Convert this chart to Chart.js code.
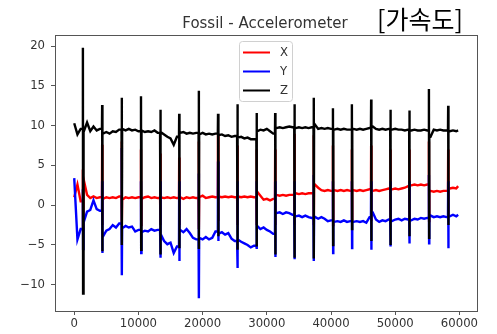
<!DOCTYPE html>
<html>
<head>
<meta charset="utf-8">
<script src="https://cdn.jsdelivr.net/npm/chart.js@4/dist/chart.umd.min.js"></script>
<style>
  html, body { margin: 0; padding: 0; background: #fff; }
  canvas { display: block; }
</style>
</head>
<body>
<canvas id="accelChart" width="497" height="334"></canvas>
<script>
// sample index (x axis), one reading every 500 samples
const timeGrid = [
  0, 500, 1000, 1500, 2000, 2500, 3000, 3500, 4000, 4500,
  5000, 5500, 6000, 6500, 7000, 7500, 8000, 8500, 9000, 9500,
  10000, 10500, 11000, 11500, 12000, 12500, 13000, 13500, 14000, 14500,
  15000, 15500, 16000, 16500, 17000, 17500, 18000, 18500, 19000, 19500,
  20000, 20500, 21000, 21500, 22000, 22500, 23000, 23500, 24000, 24500,
  25000, 25500, 26000, 26500, 27000, 27500, 28000, 28500, 29000, 29500,
  30000, 30500, 31000, 31500, 32000, 32500, 33000, 33500, 34000, 34500,
  35000, 35500, 36000, 36500, 37000, 37500, 38000, 38500, 39000, 39500,
  40000, 40500, 41000, 41500, 42000, 42500, 43000, 43500, 44000, 44500,
  45000, 45500, 46000, 46500, 47000, 47500, 48000, 48500, 49000, 49500,
  50000, 50500, 51000, 51500, 52000, 52500, 53000, 53500, 54000, 54500,
  55000, 55500, 56000, 56500, 57000, 57500, 58000, 58500, 59000, 59500,
  59800
];

const xBase = [
  1.0, 2.6, 0.5, 3.3, 1.3, 0.9, 1.1, 0.9, 1.0, 0.8,
  1.0, 0.9, 1.0, 0.9, 1.1, 0.7, 1.0, 0.9, 1.0, 0.9,
  1.0, 0.8, 1.0, 1.1, 0.9, 1.0, 0.9, 1.0, 0.9, 1.0,
  0.9, 1.0, 0.9, 1.0, 0.8, 1.0, 0.9, 1.0, 0.9, 1.0,
  1.2, 0.9, 1.0, 1.1, 1.0, 1.1, 1.0, 1.1, 1.0, 1.1,
  1.0, 1.1, 1.0, 1.1, 1.0, 1.1, 1.0, 1.7, 1.2, 0.7,
  0.8, 0.6, 0.8, 1.3, 1.2, 1.3, 1.2, 1.3, 1.3, 1.5,
  1.4, 1.5, 1.4, 1.5, 1.5, 2.7, 2.2, 1.9, 1.8, 1.9,
  1.8, 1.9, 1.8, 1.9, 1.8, 1.9, 1.8, 1.9, 1.8, 1.9,
  1.8, 1.9, 2.0, 1.8, 1.9, 1.8, 1.9, 2.0, 2.1, 2.0,
  2.1, 2.0, 2.1, 2.2, 2.4, 2.5, 2.6, 2.5, 2.6, 2.5,
  2.6, 1.8, 1.7, 1.8, 1.7, 1.8, 1.8, 2.1, 2.2, 2.1,
  2.4
];

const yBase = [
  3.4, -4.3, -3.0, -2.2, -0.8, -0.6, 0.6, -0.5, -0.7, -3.9,
  -3.2, -3.0, -2.5, -2.8, -2.3, -2.9, -2.6, -2.8, -2.7, -3.3,
  -3.1, -3.4, -3.2, -3.3, -3.0, -3.2, -3.1, -3.6, -4.5, -4.9,
  -4.7, -6.0, -5.2, -3.1, -3.4, -3.0, -3.5, -4.1, -4.3, -4.1,
  -4.3, -4.0, -4.3, -4.1, -3.3, -3.6, -3.4, -3.7, -3.5, -4.2,
  -4.5, -4.3, -4.6, -4.8, -5.0, -5.3, -5.1, -2.6, -3.0, -2.8,
  -3.1, -3.3, -3.6, -1.0, -0.9, -1.1, -0.9, -1.0, -1.2, -1.4,
  -1.3, -1.5, -1.3, -1.5, -1.6, -1.4, -1.7, -1.5, -1.7, -2.0,
  -1.9, -2.1, -2.0, -2.1, -1.9, -2.1, -2.0, -2.1, -2.0, -2.1,
  -2.0, -2.2, -1.5, -0.9, -1.8, -2.1, -1.9, -2.0, -1.8, -2.0,
  -1.8, -1.7, -1.9, -1.7, -1.8, -1.9, -1.7, -1.8, -1.6, -1.7,
  -1.6, -1.3, -1.5, -1.4, -1.5, -1.4, -1.5, -1.4, -1.2, -1.4,
  -1.2
];

const zBase = [
  10.3, 8.9, 9.6, 9.2, 10.4, 9.3, 9.9, 9.4, 9.6, 9.0,
  9.2, 9.0, 9.3, 9.2, 9.5, 9.6, 9.4, 9.6, 9.4, 9.5,
  9.3, 9.4, 9.2, 9.3, 9.2, 9.4, 9.1, 9.2, 8.9, 8.6,
  8.4, 7.6, 8.6, 9.1, 9.2, 9.0, 9.1, 9.0, 9.1, 8.9,
  9.1, 8.9, 9.0, 8.9, 9.0, 8.8, 8.9, 8.7, 8.8, 8.6,
  8.7, 8.5, 8.6, 8.4, 8.5, 8.3, 8.3, 9.3, 9.5, 9.4,
  9.6, 9.3, 9.0, 9.7, 9.8, 9.7, 9.8, 9.9, 9.8, 9.7,
  9.8, 9.7, 9.8, 9.7, 9.8, 10.3, 9.6, 9.7, 9.6, 9.7,
  9.6, 9.5, 9.6, 9.5, 9.6, 9.5, 9.5, 9.6, 9.5, 9.6,
  9.5, 9.6, 9.7, 9.9, 9.6, 9.5, 9.6, 9.5, 9.6, 9.5,
  9.6, 9.5, 9.5, 9.4, 9.5, 9.4, 9.5, 9.4, 9.4, 9.5,
  9.4, 8.6, 9.5, 9.4, 9.5, 9.4, 9.4, 9.3, 9.4, 9.3,
  9.4
];

// periodic shake events: where they happen and how far each axis swings
const spikeAt = [1350, 4350, 7400, 10400, 13400, 16350, 19400, 22400, 25400, 28400,
                 31300, 34300, 37300, 40300, 43250, 46250, 49250, 52200, 55250, 58250];
const xSpikeTop    = [4.5, 7.6, 8.0, 7.0, 6.5, 6.0, 8.0, 9.0, 7.5, 7.0, 7.0, 9.0, 8.8, 7.5, 7.0, 7.5, 7.0, 7.0, 8.0, 7.0];
const xSpikeBottom = [-3.0, -2.5, -2.5, -2.5, -2.5, -2.5, -3.0, -2.0, -2.5, -2.5, -2.5, -2.5, -2.5, -2.5, -2.0, -2.0, -2.0, -2.0, -2.0, -1.5];
const ySpikeTop    = [2.0, 3.0, 7.2, 3.0, 3.0, 3.0, 4.0, 5.5, 3.0, 3.0, 3.0, 3.0, 3.8, 3.0, 3.0, 3.0, 3.0, 3.0, 3.8, 3.0];
const ySpikeBottom = [-5.5, -6.0, -8.8, -6.0, -6.6, -7.0, -11.7, -4.5, -7.9, -5.5, -6.5, -6.8, -7.0, -6.0, -5.4, -5.6, -5.2, -4.8, -4.8, -5.4];
const zSpikeTop    = [19.8, 12.6, 13.5, 13.7, 12.0, 11.5, 14.4, 11.5, 12.7, 11.6, 11.6, 12.7, 13.5, 12.2, 12.7, 13.3, 12.0, 11.9, 14.6, 12.5];
const zSpikeBottom = [-11.1, -5.8, -5.0, -5.6, -6.2, -5.4, -5.5, -3.9, -5.6, -5.2, -6.2, -6.6, -6.7, -5.0, -3.0, -4.5, -5.0, -3.9, -4.1, -2.5];

const xTicks = [0, 10000, 20000, 30000, 40000, 50000, 60000];
const yTicks = [-10, -5, 0, 5, 10, 15, 20];

const FONT = "'DejaVu Sans', sans-serif";

// merge the base readings with the spikes; each spike leaves and comes back to
// the level of the neighbouring readings so it stays a vertical stroke
function buildSeries(base, top, bottom) {
    const pts = timeGrid.map((t, i) => ({ x: t, y: base[i] }));
    spikeAt.forEach((t, i) => {
        const before = timeGrid.filter(g => g < t).length - 1;
        const after = Math.min(before + 1, timeGrid.length - 1);
        pts.push({ x: t - 30, y: base[before] });
        pts.push({ x: t, y: top[i] });
        pts.push({ x: t + 30, y: bottom[i] });
        pts.push({ x: t + 60, y: base[after] });
    });
    pts.sort((a, b) => a.x - b.x);
    return pts;
}

// axes box + titles + legend drawn like matplotlib
const decorPlugin = {
    id: "decor",
    afterDraw(chart) {
        const ctx = chart.ctx;
        const a = chart.chartArea;
        ctx.save();
        ctx.strokeStyle = "#555";
        ctx.lineWidth = 1;
        ctx.strokeRect(a.left + 0.5, a.top + 0.5, a.right - a.left - 1, a.bottom - a.top);

        ctx.fillStyle = "#333";
        ctx.font = "15px " + FONT;
        ctx.textAlign = "center";
        ctx.textBaseline = "alphabetic";
        ctx.fillText("Fossil - Accelerometer", 265, 28);

        ctx.fillStyle = "#000";
        ctx.font = "25px 'Noto Sans CJK KR', sans-serif";
        ctx.textAlign = "left";
        ctx.fillText("[가속도]", 377, 29);

        // legend
        const lx = 239.5, ly = 41.5, lw = 53, lh = 60, r = 3;
        ctx.beginPath();
        ctx.moveTo(lx + r, ly);
        ctx.arcTo(lx + lw, ly, lx + lw, ly + lh, r);
        ctx.arcTo(lx + lw, ly + lh, lx, ly + lh, r);
        ctx.arcTo(lx, ly + lh, lx, ly, r);
        ctx.arcTo(lx, ly, lx + lw, ly, r);
        ctx.closePath();
        ctx.fillStyle = "rgba(255,255,255,0.8)";
        ctx.fill();
        ctx.strokeStyle = "#d0d0d0";
        ctx.stroke();

        const rows = [52.5, 71.5, 90.5];
        chart.data.datasets.forEach((ds, k) => {
            ctx.strokeStyle = ds.borderColor;
            ctx.lineWidth = 2;
            ctx.beginPath();
            ctx.moveTo(243, rows[k]);
            ctx.lineTo(270, rows[k]);
            ctx.stroke();
            ctx.fillStyle = "#333";
            ctx.font = "11.7px " + FONT;
            ctx.textBaseline = "middle";
            ctx.fillText(ds.label, 280, rows[k] + 0.5);
        });
        ctx.restore();
    }
};

const canvas = document.getElementById("accelChart");

new Chart(canvas, {
    type: "line",
    data: {
        datasets: [
            { label: "X", data: buildSeries(xBase, xSpikeTop, xSpikeBottom), borderColor: "#ff0000", order: 3 },
            { label: "Y", data: buildSeries(yBase, ySpikeTop, ySpikeBottom), borderColor: "#0000ff", order: 2 },
            { label: "Z", data: buildSeries(zBase, zSpikeTop, zSpikeBottom), borderColor: "#000000", order: 1 }
        ]
    },
    options: {
        responsive: false,
        animation: false,
        devicePixelRatio: 1,
        layout: { padding: { top: 35, right: 19, left: 0, bottom: 0 } },
        elements: {
            line: { borderWidth: 2.4, tension: 0, borderJoinStyle: "miter" },
            point: { radius: 0 }
        },
        plugins: {
            legend: { display: false },
            tooltip: { enabled: false },
            title: { display: false }
        },
        scales: {
            x: {
                type: "linear",
                min: -2995,
                max: 62895,
                afterBuildTicks: (s) => { s.ticks = xTicks.map(v => ({ value: v })); },
                afterFit: (s) => { s.height = 23; },
                grid: { drawOnChartArea: false, drawTicks: true, tickLength: 4, color: "#555", tickColor: "#555" },
                border: { display: false },
                ticks: {
                    color: "#333",
                    font: { family: FONT, size: 11.7 },
                    padding: 2,
                    maxRotation: 0,
                    autoSkip: false,
                    callback: (v) => String(v)
                }
            },
            y: {
                type: "linear",
                min: -13.3,
                max: 21.4,
                afterBuildTicks: (s) => { s.ticks = yTicks.map(v => ({ value: v })); },
                afterFit: (s) => { s.width = 55; },
                grid: { drawOnChartArea: false, drawTicks: true, tickLength: 4, color: "#555", tickColor: "#555" },
                border: { display: false },
                ticks: {
                    color: "#333",
                    font: { family: FONT, size: 11.7 },
                    padding: 6,
                    autoSkip: false,
                    callback: (v) => String(v).replace("-", "\u2212")
                }
            }
        }
    },
    plugins: [decorPlugin]
});
</script>
</body>
</html>
